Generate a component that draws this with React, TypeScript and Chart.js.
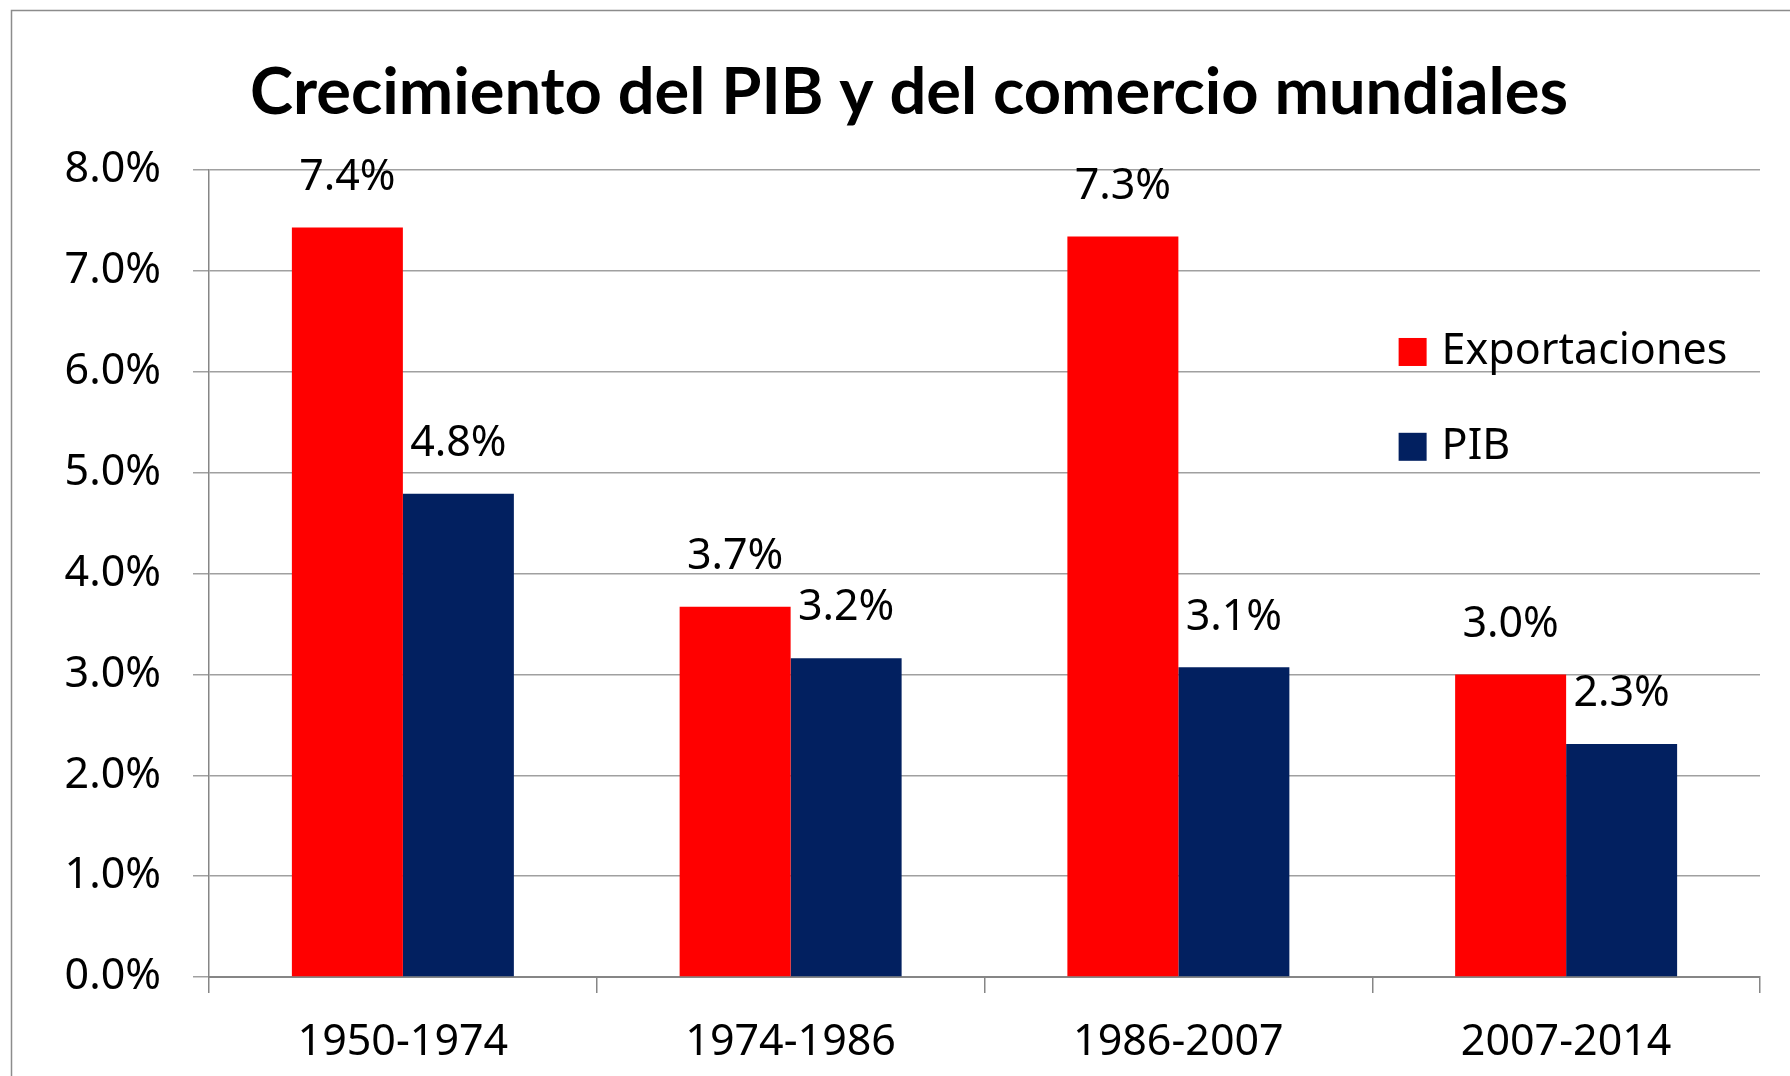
import React, { useEffect, useRef } from 'react';
import { Chart, registerables } from 'chart.js';

Chart.register(...registerables);

const titleText = 'Crecimiento del PIB y del comercio mundiales';
const categories = ['1950-1974', '1974-1986', '1986-2007', '2007-2014'];
const seriesNames = ['Exportaciones', 'PIB'];
const exportaciones = [7.43, 3.67, 7.34, 3.0];
const pib = [4.79, 3.16, 3.07, 2.31];
const seriesColors = ['#FF0000', '#022060'];
const yMin = 0;
const yMax = 8;
const yStep = 1;

const FONT = '"Noto Sans", "Open Sans", sans-serif';
const TITLE_FONT = 'Lato, "Noto Sans", sans-serif';
const TITLE_SIZE = 65;
const TEXT_SIZE = 43;

const framePlugin = {
  id: 'frame',
  beforeDraw(chart: any) {
    const { ctx, width, height } = chart;
    ctx.save();
    ctx.fillStyle = '#ffffff';
    ctx.fillRect(0, 0, width, height);
    ctx.strokeStyle = '#8c8c8c';
    ctx.lineWidth = 1.5;
    ctx.strokeRect(11.5, 10.5, width + 20, height + 20);
    ctx.restore();
  },
};

const dataLabelPlugin = {
  id: 'dataLabels',
  afterDatasetsDraw(chart: any) {
    const { ctx } = chart;
    ctx.save();
    ctx.font = `${TEXT_SIZE}px ${FONT}`;
    ctx.fillStyle = '#000000';
    ctx.textAlign = 'center';
    ctx.textBaseline = 'middle';
    chart.data.datasets.forEach((ds: any, di: number) => {
      const meta = chart.getDatasetMeta(di);
      meta.data.forEach((el: any, i: number) => {
        const v = ds.data[i] as number;
        ctx.fillText(v.toFixed(1) + '%', el.x, el.y - 50);
      });
    });
    ctx.restore();
  },
};

const legendPlugin = {
  id: 'customLegend',
  afterDraw(chart: any) {
    const { ctx, chartArea } = chart;
    const x0 = chartArea.left + (chartArea.right - chartArea.left) * 0.767;
    const rowsY = [0.2255, 0.343].map((f) => chartArea.top + (chartArea.bottom - chartArea.top) * f);
    const box = 28;
    ctx.save();
    ctx.font = `${TEXT_SIZE}px ${FONT}`;
    ctx.textAlign = 'left';
    ctx.textBaseline = 'middle';
    chart.data.datasets.forEach((ds: any, i: number) => {
      const y = rowsY[i];
      ctx.fillStyle = ds.backgroundColor;
      ctx.fillRect(x0, y - box / 2, box, box);
      ctx.fillStyle = '#000000';
      ctx.fillText(ds.label, x0 + box + 15, y);
    });
    ctx.restore();
  },
};

export default function App() {
  const ref = useRef<HTMLCanvasElement | null>(null);
  useEffect(() => {
    if (!ref.current) return;
    const chart = new Chart(ref.current, {
      type: 'bar',
      data: {
        labels: categories,
        datasets: [
          { label: seriesNames[0], data: exportaciones, backgroundColor: seriesColors[0], borderWidth: 0 },
          { label: seriesNames[1], data: pib, backgroundColor: seriesColors[1], borderWidth: 0 },
        ],
      },
      options: {
        responsive: false,
        animation: false,
        devicePixelRatio: 1,
        layout: { padding: { left: 58, right: 30, top: 0, bottom: 0 } },
        datasets: { bar: { categoryPercentage: 0.5725, barPercentage: 1 } },
        plugins: {
          legend: { display: false },
          tooltip: { enabled: false },
          title: {
            display: true,
            text: titleText,
            color: '#000000',
            font: { family: TITLE_FONT, size: TITLE_SIZE, weight: 'bold', lineHeight: 1.2 },
            padding: { top: 93 - TITLE_SIZE * 0.6, bottom: 170 - 93 - TITLE_SIZE * 0.6 },
          },
        },
        scales: {
          x: {
            afterFit(scale: any) {
              scale.height = 99;
            },
            grid: {
              display: true,
              drawOnChartArea: false,
              drawTicks: true,
              tickLength: 16,
              color: '#868686',
              lineWidth: 1.5,
              offset: true,
            },
            border: { display: true, color: '#868686', width: 2 },
            ticks: {
              color: '#000000',
              padding: 24,
              maxRotation: 0,
              font: { family: FONT, size: TEXT_SIZE },
            },
          },
          y: {
            min: yMin,
            max: yMax,
            afterFit(scale: any) {
              scale.width = 151;
            },
            grid: {
              color: '#a0a0a0',
              lineWidth: 1.5,
              drawTicks: true,
              tickLength: 16,
            },
            border: { display: true, color: '#868686', width: 1.5 },
            ticks: {
              stepSize: yStep,
              color: '#000000',
              padding: 32,
              font: { family: FONT, size: TEXT_SIZE },
              callback: (v: any) => Number(v).toFixed(1) + '%',
            },
          },
        },
      },
      plugins: [framePlugin, dataLabelPlugin, legendPlugin],
    } as any);
    return () => chart.destroy();
  }, []);
  return (
    <div style={{ position: 'absolute', left: 0, top: 0, width: 1790, height: 1076 }}>
      <canvas ref={ref} width={1790} height={1076} style={{ display: 'block' }} />
    </div>
  );
}
